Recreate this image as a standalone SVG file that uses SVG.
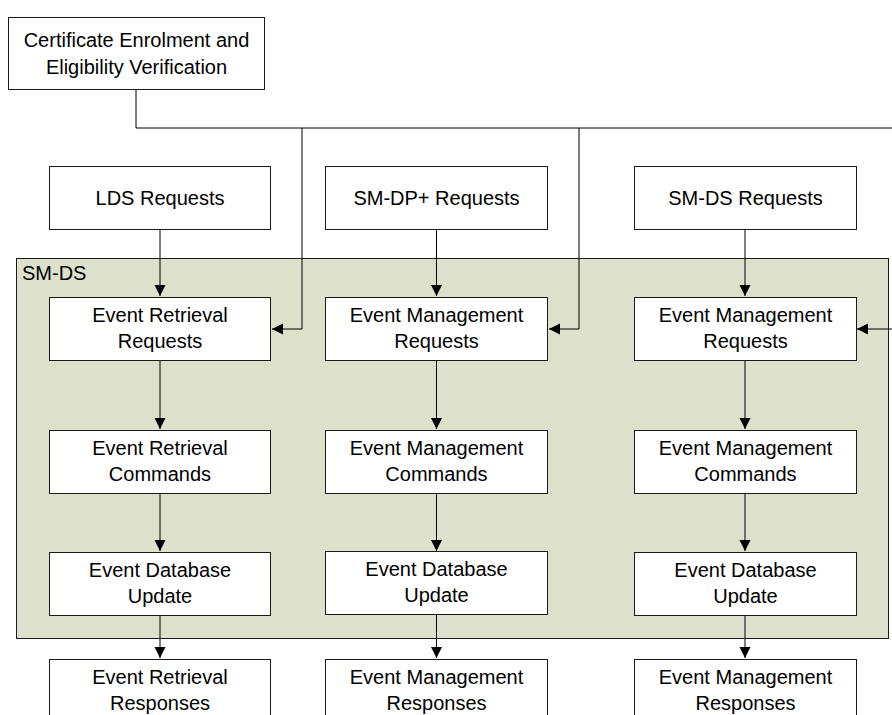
<svg xmlns="http://www.w3.org/2000/svg" width="892" height="715" viewBox="0 0 892 715">
<style>
.box{fill:#ffffff;stroke:#1a1a1a;stroke-width:1}
.grp{fill:#dde1cc;stroke:#1a1a1a;stroke-width:1}
.t{font-family:"Liberation Sans",Arial,sans-serif;font-size:20px;fill:#000;text-anchor:middle}
.lbl{font-family:"Liberation Sans",Arial,sans-serif;font-size:20px;fill:#000}
.c{fill:none;stroke:#000;stroke-width:1}
</style>
<defs>
<marker id="ah" markerWidth="12" markerHeight="12" refX="11" refY="6" orient="auto" markerUnits="userSpaceOnUse">
<path d="M0,0.5 L11,6 L0,11.5 Z" fill="#000"/>
</marker>
</defs>
<rect width="892" height="715" fill="#ffffff"/>
<g id="smds-group">
<rect class="grp" x="16.5" y="258.5" width="872" height="380"/>
<text class="lbl" x="22" y="279.5">SM-DS</text>
</g>
<g id="connectors">
<path class="c" d="M136,89 V128 H900 V329 H857" marker-end="url(#ah)"/>
<path class="c" d="M302,128 V329 H272" marker-end="url(#ah)"/>
<path class="c" d="M579,128 V329 H549" marker-end="url(#ah)"/>
<path class="c" d="M160,229 V296" marker-end="url(#ah)"/>
<path class="c" d="M436.5,229 V296" marker-end="url(#ah)"/>
<path class="c" d="M745,229 V296" marker-end="url(#ah)"/>
<path class="c" d="M160,360 V429" marker-end="url(#ah)"/>
<path class="c" d="M436.5,360 V429" marker-end="url(#ah)"/>
<path class="c" d="M745,360 V429" marker-end="url(#ah)"/>
<path class="c" d="M160,494 V551" marker-end="url(#ah)"/>
<path class="c" d="M436.5,494 V551" marker-end="url(#ah)"/>
<path class="c" d="M745,494 V551" marker-end="url(#ah)"/>
<path class="c" d="M160,615 V658" marker-end="url(#ah)"/>
<path class="c" d="M436.5,615 V658" marker-end="url(#ah)"/>
<path class="c" d="M745,615 V658" marker-end="url(#ah)"/>
</g>
<g id="cert">
<rect class="box" x="8.5" y="17.5" width="256" height="72"/>
<text class="t" x="136.5" y="47">Certificate Enrolment and</text>
<text class="t" x="136.5" y="74">Eligibility Verification</text>
</g>
<g id="lds-req">
<rect class="box" x="49.5" y="166.5" width="221" height="63"/>
<text class="t" x="160" y="205">LDS Requests</text>
</g>
<g id="smdp-req">
<rect class="box" x="325.5" y="166.5" width="222" height="63"/>
<text class="t" x="436.5" y="205">SM-DP+ Requests</text>
</g>
<g id="smds-req">
<rect class="box" x="634.5" y="166.5" width="222" height="63"/>
<text class="t" x="745.5" y="205">SM-DS Requests</text>
</g>
<g id="er-req">
<rect class="box" x="49.5" y="297.5" width="221" height="63"/>
<text class="t" x="160" y="322">Event Retrieval</text>
<text class="t" x="160" y="348">Requests</text>
</g>
<g id="em-req-1">
<rect class="box" x="325.5" y="297.5" width="222" height="63"/>
<text class="t" x="436.5" y="322">Event Management</text>
<text class="t" x="436.5" y="348">Requests</text>
</g>
<g id="em-req-2">
<rect class="box" x="634.5" y="297.5" width="222" height="63"/>
<text class="t" x="745.5" y="322">Event Management</text>
<text class="t" x="745.5" y="348">Requests</text>
</g>
<g id="er-cmd">
<rect class="box" x="49.5" y="430.5" width="221" height="63"/>
<text class="t" x="160" y="455">Event Retrieval</text>
<text class="t" x="160" y="481">Commands</text>
</g>
<g id="em-cmd-1">
<rect class="box" x="325.5" y="430.5" width="222" height="63"/>
<text class="t" x="436.5" y="455">Event Management</text>
<text class="t" x="436.5" y="481">Commands</text>
</g>
<g id="em-cmd-2">
<rect class="box" x="634.5" y="430.5" width="222" height="63"/>
<text class="t" x="745.5" y="455">Event Management</text>
<text class="t" x="745.5" y="481">Commands</text>
</g>
<g id="db-1">
<rect class="box" x="49.5" y="552.5" width="221" height="63"/>
<text class="t" x="160" y="577">Event Database</text>
<text class="t" x="160" y="603">Update</text>
</g>
<g id="db-2">
<rect class="box" x="325.5" y="551.5" width="222" height="63"/>
<text class="t" x="436.5" y="576">Event Database</text>
<text class="t" x="436.5" y="602">Update</text>
</g>
<g id="db-3">
<rect class="box" x="634.5" y="552.5" width="222" height="63"/>
<text class="t" x="745.5" y="577">Event Database</text>
<text class="t" x="745.5" y="603">Update</text>
</g>
<g id="er-resp">
<rect class="box" x="49.5" y="659.5" width="221" height="63"/>
<text class="t" x="160" y="684">Event Retrieval</text>
<text class="t" x="160" y="710">Responses</text>
</g>
<g id="em-resp-1">
<rect class="box" x="325.5" y="659.5" width="222" height="63"/>
<text class="t" x="436.5" y="684">Event Management</text>
<text class="t" x="436.5" y="710">Responses</text>
</g>
<g id="em-resp-2">
<rect class="box" x="634.5" y="659.5" width="222" height="63"/>
<text class="t" x="745.5" y="684">Event Management</text>
<text class="t" x="745.5" y="710">Responses</text>
</g>
</svg>
